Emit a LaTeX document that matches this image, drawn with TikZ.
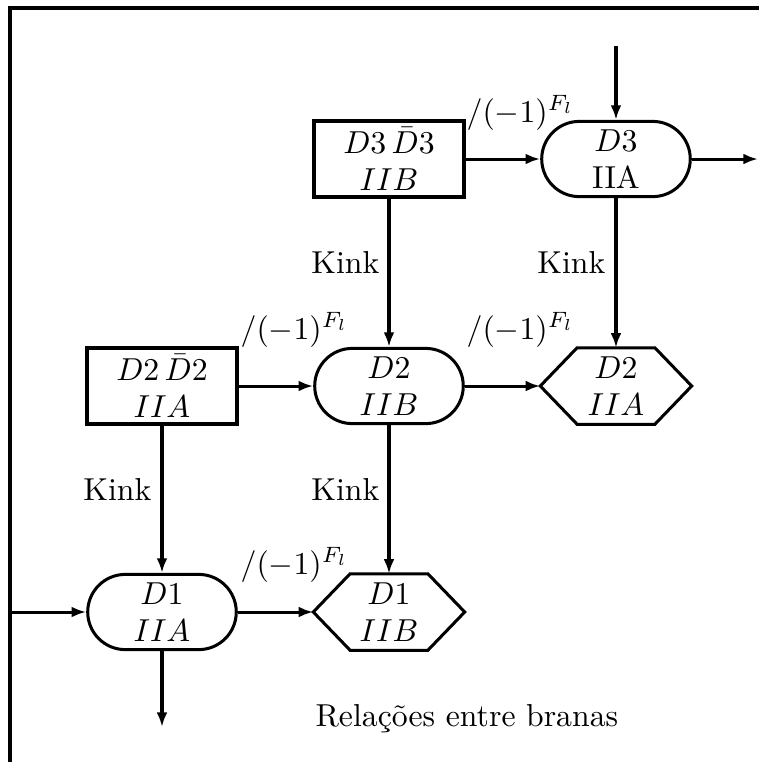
\documentclass[tikz,border=0pt]{standalone}
\usetikzlibrary{shapes.misc,arrows.meta}
\begin{document}
\begin{tikzpicture}[x=0.315pt,y=-0.315pt,
  boxnode/.style={draw,rectangle,line width=1.25pt,minimum width=47.3pt,minimum height=23.7pt,inner sep=0pt,align=center},
  stadium/.style={draw,rounded rectangle,line width=0.95pt,minimum width=46.8pt,minimum height=23.7pt,inner sep=0pt,align=center},
  hexnode/.style={rectangle,minimum width=47.3pt,minimum height=23.7pt,inner sep=0pt,align=center},
  hexline/.style={line width=0.95pt,line join=miter},
  conn/.style={line width=0.95pt,-{Latex[length=4.6pt,width=3.4pt]}},
  lab/.style={inner sep=0pt,anchor=base west},
  kink/.style={inner sep=0pt,anchor=base east},
  frameline/.style={line width=1.3pt,line join=miter}
]
\useasboundingbox (0,0) rectangle (759,762);
\draw[frameline] (10,762) -- (10,8) -- (759,8);

\node[boxnode] (R3) at (389,159) {$D3\,\bar D3$\\[-0.5pt]$IIB$};
\node[stadium] (S3) at (616,159) {$D3$\\[-0.5pt]IIA};
\node[boxnode] (R2) at (162,386) {$D2\,\bar D2$\\[-0.5pt]$IIA$};
\node[stadium] (S2) at (389,386) {$D2$\\[-0.5pt]$IIB$};
\node[hexnode] (H2) at (616,386) {$D2$\\[-0.5pt]$IIA$};
\node[stadium] (S1) at (162,612) {$D1$\\[-0.5pt]$IIA$};
\node[hexnode] (H1) at (389,612) {$D1$\\[-0.5pt]$IIB$};

\foreach \h in {H1,H2}{
  \draw[hexline] (\h.west) -- ([xshift=11.6pt]\h.north west) -- ([xshift=-11.6pt]\h.north east) -- (\h.east) -- ([xshift=-11.6pt]\h.south east) -- ([xshift=11.6pt]\h.south west) -- cycle;
}

\coordinate (topin) at (616,46);
\coordinate (rightout) at (758,159);
\coordinate (leftin) at (10,612);
\coordinate (downout) at (162,727);

\draw[conn] (topin) -- (S3.north);
\draw[conn] (S3.east) -- (rightout);
\draw[conn] (R3.east) -- (S3.west);
\draw[conn] (R3.south) -- (S2.north);
\draw[conn] (S3.south) -- (H2.north);
\draw[conn] (R2.east) -- (S2.west);
\draw[conn] (S2.east) -- (H2.west);
\draw[conn] (R2.south) -- (S1.north);
\draw[conn] (S2.south) -- (H1.north);
\draw[conn] (leftin) -- (S1.west);
\draw[conn] (S1.east) -- (H1.west);
\draw[conn] (S1.south) -- (downout);

\node[lab] (l1) at (466,122) {$/(-1)^{F_l}$};
\node[lab] (l2) at (240,339) {$/(-1)^{F_l}$};
\node[lab] (l3) at (466,339) {$/(-1)^{F_l}$};
\node[lab] (l4) at (240,574) {$/(-1)^{F_l}$};

\node[kink] (k1) at (380,273) {Kink};
\node[kink] (k2) at (606,273) {Kink};
\node[kink] (k3) at (152,500) {Kink};
\node[kink] (k4) at (380,500) {Kink};

\node[lab] (title) at (315,726) {Relações entre branas};
\end{tikzpicture}
\end{document}
